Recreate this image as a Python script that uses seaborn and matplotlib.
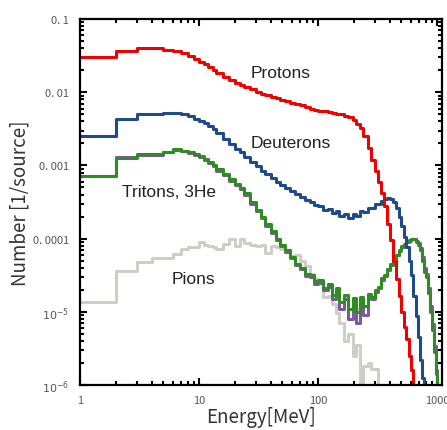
import numpy as np
import pandas as pd
import matplotlib
matplotlib.use('Agg')
import matplotlib.pyplot as plt
from matplotlib.ticker import LogLocator, NullFormatter
import seaborn as sns

# Bin edges [MeV]
edges = [1, 2, 3, 4, 5, 6, 7, 8, 9, 10, 11, 12, 13, 14, 16, 18, 20, 22, 24, 27,
         30, 33, 36, 40, 44, 48, 53, 58, 64, 70, 77, 85, 93, 100, 110, 120, 130,
         140, 150, 165, 180, 195, 210, 225, 240, 260, 280, 300, 320, 340, 360,
         380, 400, 425, 450, 475, 500, 525, 550, 575, 600, 630, 660, 690, 720,
         750, 780, 810, 840, 870, 900, 935, 970, 1000, 1050, 1100]

# Counts per bin [1/source]  (1e-9 = empty bin)
protons = [3.05e-2, 3.63e-2, 3.98e-2, 3.98e-2, 3.80e-2, 3.63e-2, 3.39e-2, 3.09e-2, 2.82e-2, 2.57e-2,
           2.40e-2, 2.19e-2, 2.04e-2, 1.82e-2, 1.62e-2, 1.48e-2, 1.35e-2, 1.26e-2, 1.17e-2, 1.10e-2,
           1.02e-2, 9.5e-3, 9.1e-3, 8.7e-3, 8.3e-3, 7.9e-3, 7.6e-3, 7.2e-3, 6.9e-3, 6.6e-3,
           6.3e-3, 6.0e-3, 5.75e-3, 5.6e-3, 5.5e-3, 5.4e-3, 5.25e-3, 5.1e-3, 5.0e-3, 4.8e-3,
           4.6e-3, 4.2e-3, 3.7e-3, 3.2e-3, 2.5e-3, 1.74e-3, 1.17e-3, 8.3e-4, 6.0e-4, 4.2e-4,
           2.75e-4, 1.6e-4, 9.5e-5, 5.0e-5, 2.8e-5, 1.66e-5, 1.0e-5, 6.3e-6, 4.2e-6, 2.5e-6,
           1.6e-6, 5e-7, 1e-9, 1e-9, 1e-9, 1e-9, 1e-9, 1e-9, 1e-9, 1e-9,
           1e-9, 1e-9, 1e-9, 1e-9, 1e-9]

deuterons = [2.5e-3, 4.37e-3, 5.0e-3, 5.0e-3, 5.25e-3, 5.25e-3, 5.1e-3, 4.8e-3, 4.37e-3, 4.07e-3,
             3.8e-3, 3.47e-3, 3.16e-3, 2.75e-3, 2.29e-3, 1.95e-3, 1.70e-3, 1.51e-3, 1.32e-3, 1.12e-3,
             9.8e-4, 8.5e-4, 7.6e-4, 6.8e-4, 6.0e-4, 5.4e-4, 4.9e-4, 4.47e-4, 4.07e-4, 3.7e-4,
             3.4e-4, 3.16e-4, 2.9e-4, 2.8e-4, 2.5e-4, 2.55e-4, 2.25e-4, 2.35e-4, 2.05e-4, 2.15e-4,
             1.9e-4, 2.2e-4, 2.05e-4, 2.4e-4, 2.3e-4, 2.6e-4, 2.6e-4, 2.95e-4, 3.0e-4, 3.3e-4,
             3.47e-4, 3.6e-4, 3.45e-4, 3.2e-4, 2.63e-4, 2.0e-4, 1.5e-4, 1.05e-4, 7.6e-5, 5.0e-5,
             3.16e-5, 1.66e-5, 8.9e-6, 4.5e-6, 2.2e-6, 1.26e-6, 5e-7, 1e-9, 1e-9, 1e-9,
             1e-9, 1e-9, 1e-9, 1e-9, 1e-9]

tritons = [7.1e-4, 1.26e-3, 1.45e-3, 1.45e-3, 1.55e-3, 1.66e-3, 1.58e-3, 1.55e-3, 1.45e-3, 1.35e-3,
           1.23e-3, 1.12e-3, 1.02e-3, 8.9e-4, 7.6e-4, 6.5e-4, 5.6e-4, 4.9e-4, 4.2e-4, 3.16e-4,
           2.5e-4, 2.0e-4, 1.58e-4, 1.26e-4, 1.0e-4, 8.3e-5, 6.9e-5, 5.6e-5, 4.5e-5, 4.0e-5,
           3.3e-5, 3.2e-5, 2.6e-5, 2.7e-5, 2.1e-5, 2.4e-5, 1.7e-5, 2.1e-5, 1.35e-5, 1.7e-5,
           1.1e-5, 1.55e-5, 1.0e-5, 1.6e-5, 1.2e-5, 1.75e-5, 1.6e-5, 2.0e-5, 2.2e-5, 2.9e-5,
           3.16e-5, 3.8e-5, 4.5e-5, 5.2e-5, 6.0e-5, 6.9e-5, 7.9e-5, 8.5e-5, 9.1e-5, 9.5e-5,
           1.0e-4, 1.0e-4, 9.1e-5, 8.3e-5, 6.9e-5, 5.0e-5, 3.5e-5, 3.0e-5, 1.8e-5, 1.0e-5,
           5.6e-6, 2.8e-6, 1.4e-6, 1e-9, 1e-9]

helium3 = [7.1e-4, 1.3e-3, 1.40e-3, 1.40e-3, 1.52e-3, 1.62e-3, 1.60e-3, 1.50e-3, 1.40e-3, 1.30e-3,
           1.18e-3, 1.07e-3, 9.8e-4, 8.5e-4, 7.3e-4, 6.2e-4, 5.4e-4, 4.7e-4, 4.0e-4, 3.0e-4,
           2.4e-4, 1.9e-4, 1.5e-4, 1.2e-4, 9.5e-5, 8.0e-5, 6.6e-5, 5.4e-5, 4.3e-5, 3.8e-5,
           3.1e-5, 3.0e-5, 2.4e-5, 2.5e-5, 2.0e-5, 2.2e-5, 1.5e-5, 1.9e-5, 1.1e-5, 1.5e-5,
           8.0e-6, 1.4e-5, 7.0e-6, 1.5e-5, 9.0e-6, 1.6e-5, 1.5e-5, 1.85e-5, 2.1e-5, 2.7e-5,
           3.1e-5, 3.7e-5, 4.4e-5, 5.1e-5, 5.9e-5, 6.8e-5, 7.8e-5, 8.4e-5, 9.0e-5, 9.4e-5,
           9.8e-5, 1.0e-4, 9.3e-5, 8.6e-5, 7.4e-5, 5.6e-5, 4.0e-5, 3.3e-5, 2.1e-5, 1.2e-5,
           6.8e-6, 3.4e-6, 1.6e-6, 1e-9, 1e-9]

pions = [1.38e-5, 3.6e-5, 4.8e-5, 5.5e-5, 5.5e-5, 6.2e-5, 7.2e-5, 7.6e-5, 7.6e-5, 8.9e-5,
         8.3e-5, 7.9e-5, 7.6e-5, 7.2e-5, 8.5e-5, 9.8e-5, 7.9e-5, 9.8e-5, 8.7e-5, 8.1e-5,
         7.9e-5, 8.3e-5, 6.3e-5, 7.9e-5, 7.6e-5, 7.2e-5, 6.9e-5, 5.8e-5, 6.0e-5, 5.0e-5,
         4.2e-5, 3.3e-5, 2.8e-5, 2.5e-5, 1.6e-5, 1.66e-5, 1.26e-5, 9.5e-6, 7.1e-6, 4.0e-6,
         5.0e-6, 2.5e-6, 3.5e-6, 3e-7, 1.8e-6, 2.0e-6, 1.66e-6, 1.66e-6, 3e-7, 1e-9,
         1e-9, 1e-9, 1e-9, 1e-9, 1e-9, 1e-9, 1e-9, 1e-9, 1e-9, 1e-9,
         1e-9, 1e-9, 1e-9, 1e-9, 1e-9, 1e-9, 1e-9, 1e-9, 1e-9, 1e-9,
         1e-9, 1e-9, 1e-9, 1e-9, 1e-9]

series = {'Pions': pions, '3He': helium3, 'Tritons': tritons,
          'Deuterons': deuterons, 'Protons': protons}
colors = {'Pions': '#d0ccc6', '3He': '#7a5a9c', 'Tritons': '#2f8c20',
          'Deuterons': '#1f4b8c', 'Protons': '#f00000'}

ytick_vals = [1e-6, 1e-5, 1e-4, 1e-3, 1e-2, 1e-1]
ytick_labels = ['$10^{-6}$', '$10^{-5}$', '0. 0001', '0. 001', '0. 01', '0. 1']
xtick_vals = [1, 10, 100, 1000]
xtick_labels = ['1', '10', '100', '1000']

# long dataframe, last value repeated so the final step is drawn
frames = []
for name, vals in series.items():
    frames.append(pd.DataFrame({'energy': edges,
                                'number': list(vals) + [vals[-1]],
                                'particle': name}))
df = pd.concat(frames, ignore_index=True)

sns.set_style('ticks')
plt.rcParams['font.family'] = ['Liberation Sans', 'DejaVu Sans']
cjk = ['Noto Sans CJK JP', 'DejaVu Sans']

fig = plt.figure(figsize=(4.47, 4.31), dpi=100)
ax = fig.add_axes([0.179, 0.1044, 0.810, 0.849])

sns.lineplot(data=df, x='energy', y='number', hue='particle',
             hue_order=list(series.keys()), palette=colors,
             drawstyle='steps-post', estimator=None, sort=False,
             linewidth=2.2, legend=False, ax=ax)

ax.set_xscale('log')
ax.set_yscale('log')
ax.set_xlim(1, 1100)
ax.set_ylim(1e-6, 0.1)

ax.set_yticks(ytick_vals)
ax.set_yticklabels(ytick_labels)
ax.set_xticks(xtick_vals)
ax.set_xticklabels(xtick_labels)
for axis in (ax.xaxis, ax.yaxis):
    axis.set_minor_locator(LogLocator(base=10, subs=range(2, 10), numticks=50))
    axis.set_minor_formatter(NullFormatter())
ax.tick_params(which='both', direction='in', top=True, right=True,
               width=1.5, colors='black', labelcolor='#555555', labelsize=8)
ax.tick_params(which='major', length=5)
ax.tick_params(which='minor', length=3.2)
ax.tick_params(axis='y', which='major', pad=8)
ax.tick_params(axis='x', which='major', pad=7.5)
for lab in ax.get_xticklabels() + ax.get_yticklabels():
    lab.set_family(cjk)
for sp in ax.spines.values():
    sp.set_linewidth(1.6)
    sp.set_color('black')

ax.set_xlabel('Energy[MeV]', fontsize=13.5, color='#333333', family=cjk, va='center')
ax.set_ylabel('Number [1/source]', fontsize=13.5, color='#333333', family=cjk, va='center')
ax.xaxis.set_label_coords(0.5, -0.087)
ax.yaxis.set_label_coords(-0.166, 0.5)

# curve labels
txt = dict(transform=ax.transAxes, ha='center', va='center',
           fontsize=12.5, color='#222222')
ax.text(0.553, 0.855, 'Protons', **txt)
ax.text(0.583, 0.664, 'Deuterons', **txt)
ax.text(0.247, 0.530, 'Tritons, 3He', **txt)
ax.text(0.313, 0.290, 'Pions', **txt)

fig.savefig('out.png', dpi=100)
